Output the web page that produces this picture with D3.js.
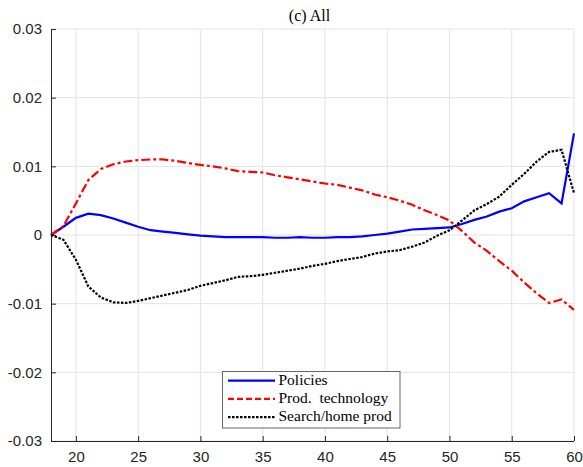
<!DOCTYPE html>
<html><head><meta charset="utf-8">
<script src="https://cdn.jsdelivr.net/npm/d3@7"></script>
<style>body{margin:0;background:#fff}svg{display:block}</style>
</head><body>
<svg id="c" width="583" height="467"></svg>
<script>
const ages = d3.range(18, 61);
const policies = [0, 0.0012, 0.0025, 0.0031, 0.0029, 0.0024, 0.0018, 0.0012, 0.0007, 0.0005, 0.0003, 0.0001, -0.0001, -0.0002, -0.0003, -0.0003,
  -0.0003, -0.0003, -0.0004, -0.0004, -0.0003, -0.0004, -0.0004, -0.0003, -0.0003, -0.0002, 0.0000, 0.0002, 0.0005, 0.0008, 0.0009, 0.0010,
  0.0011, 0.0016, 0.0022, 0.0027, 0.0034, 0.0039, 0.0049, 0.0055, 0.0061, 0.0046, 0.0148];
const prodTech = [0, 0.0013, 0.0046, 0.0080, 0.0096, 0.0103, 0.0107, 0.0109, 0.0110, 0.0110, 0.0108, 0.0105, 0.0102, 0.0100, 0.0097, 0.0093,
  0.0092, 0.0091, 0.0087, 0.0084, 0.0081, 0.0078, 0.0075, 0.0073, 0.0069, 0.0065, 0.0059, 0.0055, 0.0050, 0.0044, 0.0036, 0.0029,
  0.0021, 0.0006, -0.0011, -0.0023, -0.0038, -0.0052, -0.0069, -0.0085, -0.0099, -0.0094, -0.0109];
const searchHome = [0, -0.0007, -0.0036, -0.0075, -0.0091, -0.0098, -0.0099, -0.0096, -0.0092, -0.0088, -0.0084, -0.0080, -0.0074, -0.0070, -0.0066, -0.0061,
  -0.0060, -0.0058, -0.0055, -0.0052, -0.0049, -0.0045, -0.0042, -0.0038, -0.0035, -0.0032, -0.0027, -0.0024, -0.0022, -0.0017, -0.0011, -0.0001,
  0.0007, 0.0021, 0.0036, 0.0045, 0.0056, 0.0073, 0.0089, 0.0107, 0.0121, 0.0124, 0.0061];
const xTicks = [20, 25, 30, 35, 40, 45, 50, 55, 60];
const yTicks = [-0.03, -0.02, -0.01, 0, 0.01, 0.02, 0.03];
const yTickLabels = ["-0.03", "-0.02", "-0.01", "0", "0.01", "0.02", "0.03"];
const seriesNames = ["Policies", "Prod.  technology", "Search/home prod"];
const title = "(c) All";

const svg = d3.select("#c");
const L = 51, R = 574, T = 29, B = 441;
const x = d3.scaleLinear().domain([18, 60]).range([L, R]);
const y = d3.scaleLinear().domain([-0.03, 0.03]).range([B, T]);
const axisCol = "#262626";
const serif = "Liberation Serif, Times New Roman, serif";

// grid
const g = svg.append("g");
g.selectAll(".gx").data(xTicks).enter().append("line")
  .attr("x1", d => x(d)).attr("x2", d => x(d)).attr("y1", T).attr("y2", B)
  .attr("stroke", "#e3e3e3").attr("stroke-width", 1);
g.selectAll(".gy").data(yTicks).enter().append("line")
  .attr("x1", L).attr("x2", R).attr("y1", d => y(d)).attr("y2", d => y(d))
  .attr("stroke", "#e3e3e3").attr("stroke-width", 1);

// axes
const xAxis = d3.axisBottom(x).tickValues(xTicks).tickSizeInner(-5).tickSizeOuter(0).tickPadding(10);
const yAxis = d3.axisLeft(y).tickValues(yTicks).tickFormat((d, i) => yTickLabels[i]).tickSizeInner(-5).tickSizeOuter(0).tickPadding(9);
const gx = svg.append("g").attr("transform", `translate(0,${B})`).call(xAxis);
const gy = svg.append("g").attr("transform", `translate(${L},0)`).call(yAxis);
[gx, gy].forEach(a => {
  a.select(".domain").attr("stroke", axisCol).attr("stroke-width", 1);
  a.selectAll(".tick line").attr("stroke", axisCol);
  a.selectAll("text").attr("fill", axisCol).style("font-family", "Liberation Sans, Arial, sans-serif").style("font-size", "15px");
});
gx.select(".domain").attr("d", `M${L},0.5H${R}`);
gy.select(".domain").attr("d", `M0.5,${B}V${T}`);

// lines
const series = [
  {name: seriesNames[0], vals: policies, color: "#0000ff", dash: null, ldash: null},
  {name: seriesNames[1], vals: prodTech, color: "#ff0000", dash: "9,3,3,3", ldash: "6,3"},
  {name: seriesNames[2], vals: searchHome, color: "#000000", dash: "2.5,1.5", ldash: "2.5,1.5"}
];
const line = d3.line().x((d, i) => x(ages[i])).y(d => y(d));
series.forEach(s => {
  svg.append("path").datum(s.vals).attr("d", line)
    .attr("fill", "none").attr("stroke", s.color).attr("stroke-width", 2.2)
    .attr("stroke-dasharray", s.dash);
});

// title
svg.append("text").attr("x", (L + R) / 2 - 3).attr("y", 20.5).attr("text-anchor", "middle")
  .style("font-family", serif).style("font-size", "16px")
  .attr("fill", "#000").text(title);

// legend
const lg = svg.append("g");
lg.append("rect").attr("x", 222.5).attr("y", 371.5).attr("width", 177.5).attr("height", 56.5)
  .attr("fill", "#fff").attr("stroke", "#666").attr("stroke-width", 1);
series.forEach((s, i) => {
  const yy = 380.7 + i * 18.2;
  lg.append("line").attr("x1", 228).attr("x2", 275).attr("y1", yy).attr("y2", yy)
    .attr("stroke", s.color).attr("stroke-width", 2.2).attr("stroke-dasharray", s.ldash);
  lg.append("text").attr("x", 278.5).attr("y", yy + 3.8)
    .style("font-family", serif).style("font-size", "15.5px").style("white-space", "pre")
    .attr("fill", "#000").text(s.name);
});
</script>
</body></html>
